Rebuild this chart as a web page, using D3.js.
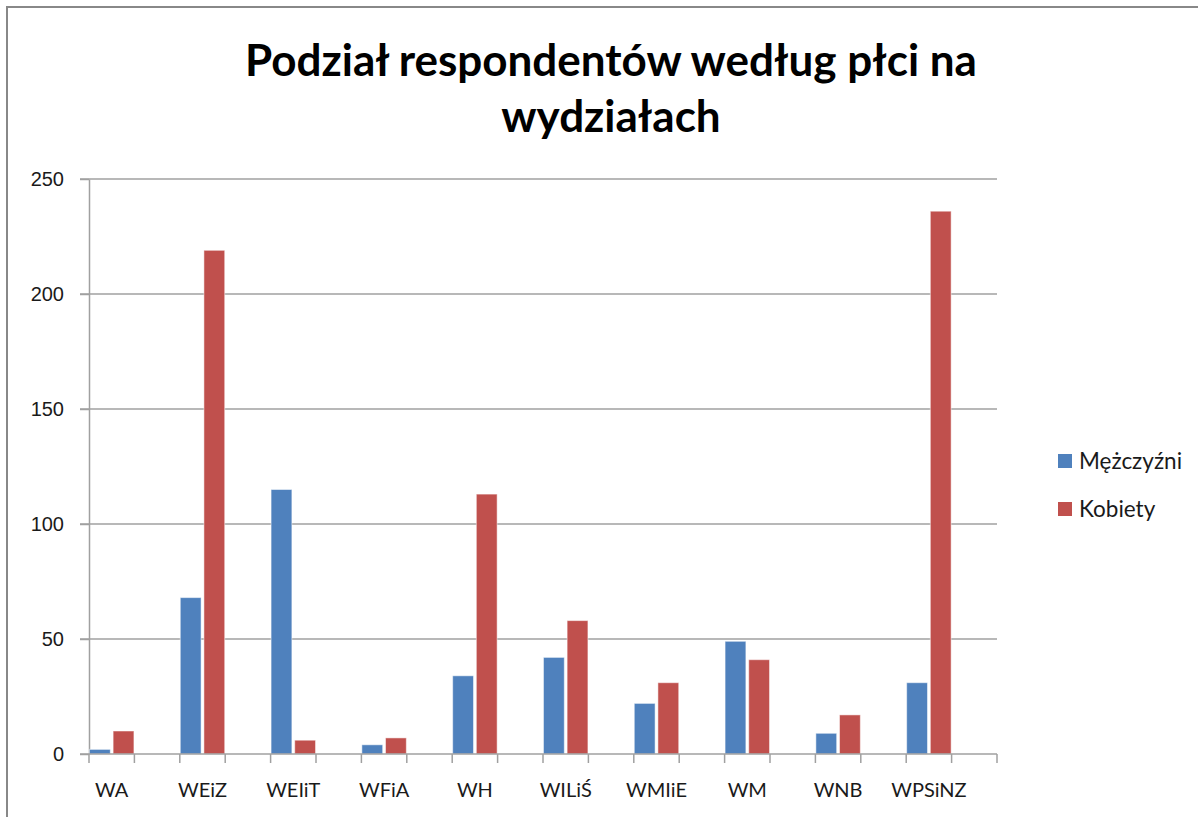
<!DOCTYPE html>
<html>
<head>
<meta charset="utf-8">
<script src="https://cdn.jsdelivr.net/npm/d3@7"></script>
<style>
    body { margin: 0; background: #fff; }
    svg { font-family: Lato, "Open Sans", sans-serif; }
    .grid line { stroke: #a0a0a0; stroke-width: 1.3; }
    .axis path, .axis line { stroke: #a0a0a0; stroke-width: 1.5; }
    .axis text { fill: #1a1a1a; font-size: 20px; }
    .xlab { font-size: 21.5px; }
</style>
</head>
<body>
<svg id="chart" width="1198" height="817"></svg>
<script>
// Wydziały (categories)
var wydzialy = ["WA", "WEiZ", "WEIiT", "WFiA", "WH", "WILiŚ", "WMIiE", "WM", "WNB", "WPSiNZ"];
var mezczyzni = [2, 68, 115, 4, 34, 42, 22, 49, 9, 31];
var kobiety = [10, 219, 6, 7, 113, 58, 31, 41, 17, 236];
var seriesNames = ["Mężczyźni", "Kobiety"];
var yTicks = [0, 50, 100, 150, 200, 250];

var colors = ["#4F81BD", "#C0504D"];

var svg = d3.select("#chart");

// frame of the chart area
svg.append("rect")
    .attr("x", 7).attr("y", 7)
    .attr("width", 1200).attr("height", 820)
    .attr("fill", "none")
    .attr("stroke", "#888").attr("stroke-width", 2);

// title
var title = svg.append("text")
    .attr("text-anchor", "middle")
    .attr("font-weight", "bold")
    .attr("font-size", "44px")
    .attr("fill", "#000");
title.append("tspan").attr("x", 611).attr("y", 76).text("Podział respondentów według płci na");
title.append("tspan").attr("x", 611).attr("y", 132).text("wydziałach");

var mLeft = 89, mRight = 997, mTop = 179, mBottom = 754;

// each department sits in a slot followed by an empty slot (as in the source sheet)
var slots = [];
wydzialy.forEach(function(d, i) { slots.push(d); slots.push("_gap" + i); });

var x = d3.scaleBand().domain(slots).range([mLeft, mRight]);
var xInner = d3.scaleBand().domain(seriesNames).range([0, x.bandwidth()])
    .paddingInner(0.12).paddingOuter(0.02);
var y = d3.scaleLinear().domain([0, 250]).range([mBottom, mTop]);

// gridlines
svg.append("g").attr("class", "grid")
    .selectAll("line")
    .data(yTicks.filter(function(t) { return t > 0; }))
    .enter().append("line")
    .attr("x1", mLeft - 9).attr("x2", mRight)
    .attr("y1", function(d) { return y(d); })
    .attr("y2", function(d) { return y(d); });

// y axis
svg.append("g").attr("class", "axis")
    .attr("transform", "translate(" + mLeft + ",0)")
    .call(d3.axisLeft(y).tickValues(yTicks).tickSize(9).tickSizeOuter(0).tickPadding(16));

// bars
var rows = wydzialy.map(function(d, i) { return { cat: d, vals: [mezczyzni[i], kobiety[i]] }; });
var groups = svg.append("g").selectAll("g")
    .data(rows)
    .enter().append("g")
    .attr("transform", function(d) { return "translate(" + x(d.cat) + ",0)"; });

groups.selectAll("rect")
    .data(function(d) { return d.vals.map(function(v, j) { return { s: seriesNames[j], v: v, j: j }; }); })
    .enter().append("rect")
    .attr("x", function(d) { return xInner(d.s); })
    .attr("width", xInner.bandwidth())
    .attr("y", function(d) { return y(d.v); })
    .attr("height", function(d) { return mBottom - y(d.v); })
    .attr("fill", function(d) { return colors[d.j]; })
    .attr("stroke", "#fff").attr("stroke-opacity", 0.5).attr("stroke-width", 1);

// x axis: ticks on every slot boundary, labels under departments
var xAxisG = svg.append("g").attr("class", "axis");
xAxisG.append("line")
    .attr("x1", mLeft - 9).attr("x2", mRight)
    .attr("y1", mBottom).attr("y2", mBottom);
var bounds = slots.map(function(s) { return x(s); }).concat([mRight]);
xAxisG.selectAll(".tk")
    .data(bounds)
    .enter().append("line").attr("class", "tk")
    .attr("x1", function(d) { return d; }).attr("x2", function(d) { return d; })
    .attr("y1", mBottom).attr("y2", mBottom + 9);
xAxisG.selectAll("text")
    .data(wydzialy)
    .enter().append("text")
    .attr("class", "xlab")
    .attr("x", function(d) { return x(d) + x.bandwidth() / 2; })
    .attr("y", 797)
    .attr("text-anchor", "middle")
    .text(function(d) { return d; });

// legend
var legend = svg.append("g").selectAll("g")
    .data(seriesNames)
    .enter().append("g")
    .attr("transform", function(d, i) { return "translate(1058," + (461 + i * 48) + ")"; });
legend.append("rect")
    .attr("x", 0).attr("y", -7).attr("width", 14).attr("height", 14)
    .attr("fill", function(d, i) { return colors[i]; });
legend.append("text")
    .attr("x", 21).attr("y", 8)
    .attr("font-size", "22.5px").attr("fill", "#1a1a1a")
    .text(function(d) { return d; });
</script>
</body>
</html>
